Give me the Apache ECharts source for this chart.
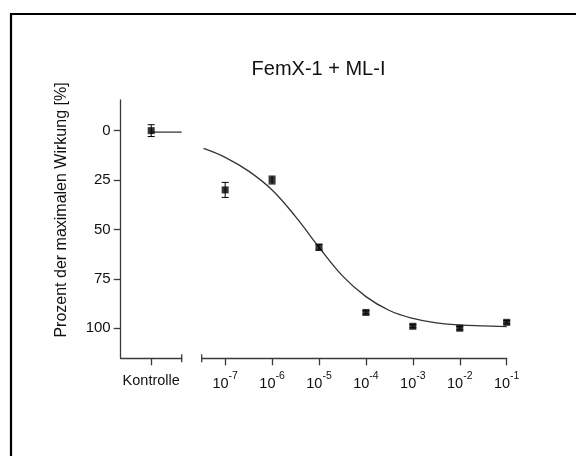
<!DOCTYPE html>
<html>
<head>
<meta charset="utf-8">
<script src="https://cdn.jsdelivr.net/npm/echarts@6/dist/echarts.min.js"></script>
<style>
html,body{margin:0;padding:0;background:#fff;}
#chart{width:576px;height:456px;}
</style>
</head>
<body>
<div id="chart"></div>
<script>
// ---- data ----
const titleText = 'FemX-1 + ML-I';
const yAxisTitle = 'Prozent der maximalen Wirkung [%]';
const yTicks = [0, 25, 50, 75, 100];
const controlLabel = 'Kontrolle';
const controlMean = 0;
const controlErr = 3;
const controlFitLevel = 0.8;
const doseExp = [-7, -6, -5, -4, -3, -2, -1];
const doseMean = [30, 25, 59, 92, 99, 100, 97];
const doseErr = [3.8, 2, 1.5, 0.8, 0.8, 0.8, 0.8];
const fitExp = [-7.46, -7.0, -6.5, -6.0, -5.5, -5.0, -4.5, -4.0, -3.5, -3.0, -2.5, -2.0, -1.5, -1.0];
const fitVal = [9, 13.5, 20.5, 30, 43.5, 59, 73.5, 84, 91, 95, 97.3, 98.3, 98.8, 99.2];

// ---- layout ----
const FONT = '"Liberation Sans", Arial, sans-serif';
const AX = '#3a3a3a';
const yMin = -15.5, yMax = 115.2;
const gTop = 100, gH = 258.3;

const chart = echarts.init(document.getElementById('chart'), null, {renderer: 'canvas'});

function errSeries(xi, yi, pts) {
  return {
    type: 'custom', xAxisIndex: xi, yAxisIndex: yi, silent: true, z: 3,
    data: pts,
    renderItem: function (params, api) {
      const x = api.value(0), m = api.value(1), e = api.value(2);
      const p1 = api.coord([x, m - e]);
      const p2 = api.coord([x, m + e]);
      const w = 3.5;
      const st = {stroke: '#000', lineWidth: 1};
      return {type: 'group', children: [
        {type: 'line', shape: {x1: p1[0], y1: p1[1], x2: p2[0], y2: p2[1]}, style: st},
        {type: 'line', shape: {x1: p1[0] - w, y1: p1[1], x2: p1[0] + w, y2: p1[1]}, style: st},
        {type: 'line', shape: {x1: p2[0] - w, y1: p2[1], x2: p2[0] + w, y2: p2[1]}, style: st}
      ]};
    }
  };
}

const option = {
  backgroundColor: '#fff',
  animation: false,
  title: {
    text: titleText, left: 313.5, top: 54, textAlign: 'center',
    textStyle: {fontFamily: FONT, fontSize: 20, fontWeight: 'normal', color: '#111'}
  },
  grid: [
    {left: 120.7, top: gTop, width: 61, height: gH},
    {left: 201.7, top: gTop, width: 305, height: gH}
  ],
  xAxis: [
    {
      type: 'value', gridIndex: 0, min: 0, max: 2,
      splitLine: {show: false},
      axisLine: {onZero: false, lineStyle: {color: AX, width: 1.3}},
      axisTick: {customValues: [1], length: 7, lineStyle: {color: AX, width: 1.3}},
      axisLabel: {customValues: [1], formatter: function () { return controlLabel; },
        margin: 15, color: '#111', fontFamily: FONT, fontSize: 14.5}
    },
    {
      type: 'value', gridIndex: 1, min: -7.5, max: -1,
      splitLine: {show: false},
      axisLine: {onZero: false, lineStyle: {color: AX, width: 1.3}},
      axisTick: {customValues: doseExp, length: 7, lineStyle: {color: AX, width: 1.3}},
      axisLabel: {customValues: doseExp, margin: 12,
        formatter: function (v) { return '{b|10}{s|' + v + '}'; },
        rich: {
          b: {fontFamily: FONT, fontSize: 14.5, color: '#111', lineHeight: 21, verticalAlign: 'bottom'},
          s: {fontFamily: FONT, fontSize: 10.5, color: '#111', lineHeight: 11, verticalAlign: 'top'}
        }
      }
    }
  ],
  yAxis: [
    {
      type: 'value', gridIndex: 0, min: yMin, max: yMax, inverse: true,
      splitLine: {show: false},
      axisLine: {show: true, onZero: false, lineStyle: {color: AX, width: 1.3}},
      axisTick: {show: true, customValues: yTicks, length: 7, lineStyle: {color: AX, width: 1.3}},
      axisLabel: {customValues: yTicks, margin: 10, color: '#111', fontFamily: FONT, fontSize: 15}
    },
    {
      type: 'value', gridIndex: 1, min: yMin, max: yMax, inverse: true, show: false
    }
  ],
  graphic: [
    {type: 'rect', shape: {x: 11, y: 14, width: 620, height: 520}, style: {fill: 'none', stroke: '#000', lineWidth: 2.2}, silent: true},
    {type: 'text', x: 62, y: 210, rotation: Math.PI / 2,
      style: {text: yAxisTitle, fontFamily: FONT, fontSize: 16, fill: '#111', align: 'center', verticalAlign: 'middle'}}
  ],
  series: [
    {
      type: 'line', xAxisIndex: 0, yAxisIndex: 0, showSymbol: false, silent: true,
      data: [[1, controlFitLevel], [2, controlFitLevel]],
      lineStyle: {color: '#333', width: 1.3}
    },
    errSeries(0, 0, [[1, controlMean, controlErr]]),
    {
      type: 'scatter', xAxisIndex: 0, yAxisIndex: 0, symbol: 'rect', symbolSize: 7, z: 4,
      itemStyle: {color: '#000'},
      data: [[1, controlMean]]
    },
    {
      type: 'line', xAxisIndex: 1, yAxisIndex: 1, showSymbol: false, smooth: 0.4, silent: true,
      data: fitExp.map(function (x, i) { return [x, fitVal[i]]; }),
      lineStyle: {color: '#333', width: 1.3}
    },
    errSeries(1, 1, doseExp.map(function (x, i) { return [x, doseMean[i], doseErr[i]]; })),
    {
      type: 'scatter', xAxisIndex: 1, yAxisIndex: 1, symbol: 'rect', symbolSize: 7, z: 4,
      itemStyle: {color: '#000'},
      data: doseExp.map(function (x, i) { return [x, doseMean[i]]; })
    }
  ]
};
chart.setOption(option);

// axis break caps at the segment ends
const capR = chart.convertToPixel({xAxisIndex: 0, yAxisIndex: 0}, [2, yMax]);
const capL = chart.convertToPixel({xAxisIndex: 1, yAxisIndex: 1}, [-7.5, yMax]);
const capStyle = {stroke: AX, lineWidth: 1.3};
chart.setOption({
  graphic: option.graphic.concat([
    {type: 'line', shape: {x1: capR[0], y1: capR[1] - 4, x2: capR[0], y2: capR[1] + 4}, style: capStyle, silent: true},
    {type: 'line', shape: {x1: capL[0], y1: capL[1] - 4, x2: capL[0], y2: capL[1] + 4}, style: capStyle, silent: true}
  ])
});
</script>
</body>
</html>
